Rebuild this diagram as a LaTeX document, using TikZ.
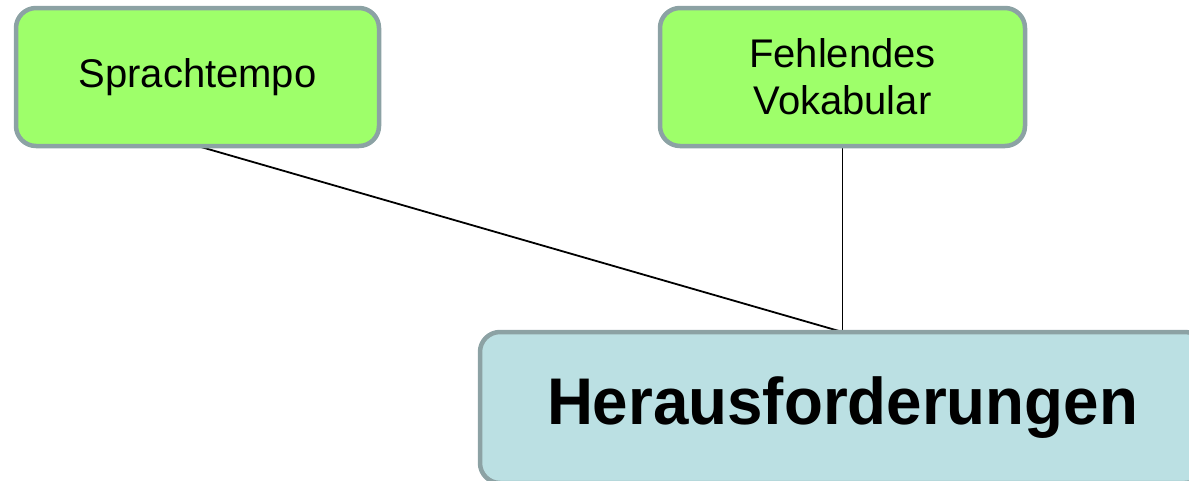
\documentclass[tikz,border=0pt]{standalone}
\usepackage{fontspec}
\setmainfont{Liberation Sans}
\usetikzlibrary{backgrounds}
\definecolor{boxgreen}{RGB}{158,255,106}
\definecolor{boxblue}{RGB}{187,224,227}
\definecolor{boxborder}{RGB}{140,162,164}
\tikzset{
  greenbox/.style={draw=boxborder, fill=boxgreen, line width=4.5pt, rounded corners=20pt,
    minimum height=138pt, inner sep=0pt, outer sep=0pt, align=center,
    font=\fontsize{40}{47}\selectfont},
  bluebox/.style={draw=boxborder, fill=boxblue, line width=4.5pt, rounded corners=20pt,
    minimum width=725pt, minimum height=151pt, inner sep=0pt, outer sep=0pt,
    font=\fontsize{66}{78}\selectfont\bfseries},
  link/.style={draw=black, line width=1.8pt}
}
\begin{document}
\begin{tikzpicture}[x=1pt,y=-1pt]
\useasboundingbox (0,0) rectangle (1189,480);
\clip (0,0) rectangle (1189,480);
\node[greenbox, minimum width=363pt] (s1) at (197.5,77) {Sprachtempo};
\node[greenbox, minimum width=365pt] (s2) at (842.5,77) {Fehlendes\\Vokabular};
\node[bluebox] (h) at (842.5,407.5) {\scalebox{0.965}[1]{Herausforderungen}};
\begin{scope}[on background layer]
\draw[link] (s1.south) -- (h.north);
\draw[link] (s2.south) -- (h.north);
\end{scope}
\end{tikzpicture}
\end{document}
